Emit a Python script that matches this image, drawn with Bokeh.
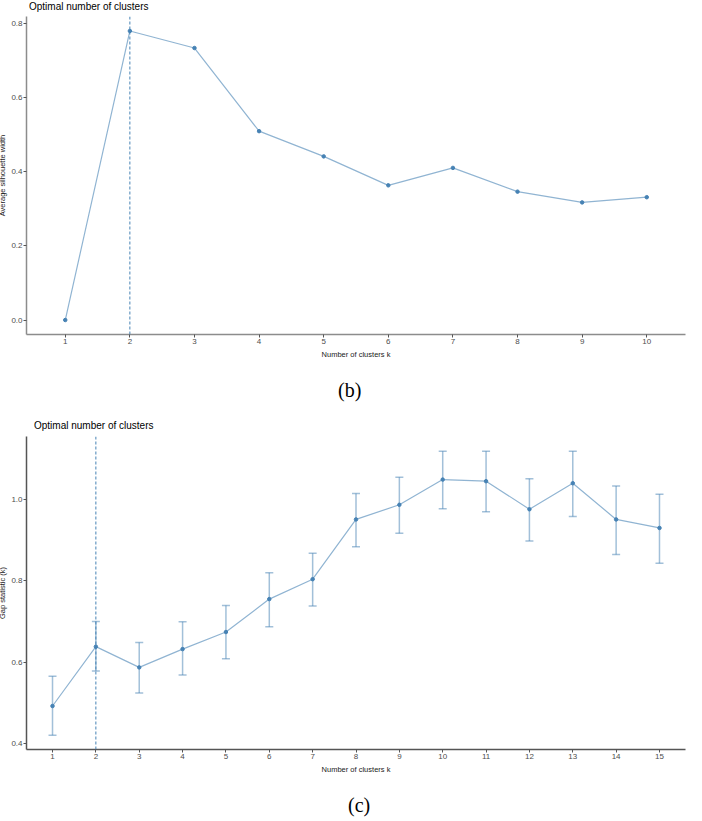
from bokeh.plotting import figure
from bokeh.models import (ColumnDataSource, Whisker, TeeHead, Span, Div,
                          FixedTicker)
from bokeh.layouts import column
from bokeh.embed import file_html
from bokeh.resources import INLINE

# ---------------- data ----------------
k_sil = [1, 2, 3, 4, 5, 6, 7, 8, 9, 10]
silhouette = [0.0, 0.779, 0.733, 0.509, 0.441, 0.363, 0.410, 0.346, 0.317, 0.331]
sil_yticks = [0.0, 0.2, 0.4, 0.6, 0.8]

k_gap = [1, 2, 3, 4, 5, 6, 7, 8, 9, 10, 11, 12, 13, 14, 15]
gap = [0.492, 0.638, 0.587, 0.632, 0.674, 0.755, 0.804, 0.951, 0.987, 1.049,
       1.045, 0.976, 1.040, 0.951, 0.930]
gap_lo = [0.420, 0.578, 0.524, 0.568, 0.608, 0.687, 0.738, 0.884, 0.917, 0.977,
          0.970, 0.898, 0.958, 0.865, 0.843]
gap_hi = [0.565, 0.700, 0.648, 0.699, 0.739, 0.820, 0.868, 1.015, 1.055, 1.119,
          1.119, 1.051, 1.119, 1.033, 1.013]
gap_yticks = [0.4, 0.6, 0.8, 1.0]

optimal_sil = 2
optimal_gap = 2

title_text = "Optimal number of clusters"
xlab = "Number of clusters k"
ylab_sil = "Average silhouette width"
ylab_gap = "Gap statistic (k)"

BLUE = "#4682B4"
FONT = "Liberation Sans"


def style(p, xticks, yticks, axis_color, ylab):
    p.xgrid.visible = False
    p.ygrid.visible = False
    p.outline_line_color = None
    p.xaxis.ticker = FixedTicker(ticks=xticks)
    p.yaxis.ticker = FixedTicker(ticks=yticks)
    p.yaxis.major_label_overrides = {v: f"{v:.1f}" for v in yticks}
    p.xaxis.major_label_overrides = {v: str(v) for v in xticks}
    for ax in (p.xaxis[0], p.yaxis[0]):
        ax.axis_line_color = axis_color
        ax.axis_line_width = 1.5
        ax.major_tick_line_color = "#555555"
        ax.major_tick_out = 3
        ax.major_tick_in = 0
        ax.minor_tick_out = 0
        ax.minor_tick_in = 0
        ax.major_label_text_font = FONT
        ax.major_label_text_font_size = "8px"
        ax.major_label_text_color = "#4d4d4d"
        ax.major_label_standoff = 1
        ax.axis_label_text_font = FONT
        ax.axis_label_text_font_size = "7.5px"
        ax.axis_label_text_font_style = "normal"
        ax.axis_label_text_color = "#222222"
        ax.axis_label_standoff = 1
    p.xaxis.axis_label_standoff = 3
    p.xaxis.axis_label = xlab
    p.yaxis.axis_label = ylab


def text_div(text, height, top, left, font, size):
    inner = (f'<div style="position:absolute; top:{top}px; left:{left}px; '
             f'font-family:\'{font}\'; font-size:{size}px; line-height:{int(size * 1.4)}px; '
             f'color:#000; white-space:nowrap;">{text}</div>')
    return Div(text=inner, width=702, height=height, margin=(0, 0, 0, 0),
               styles={"position": "relative", "overflow": "visible"})


# ---------------- (b) silhouette ----------------
title_b = text_div(title_text, 14, 0, 37, FONT, 10)
p1 = figure(width=702, height=352, x_range=(0.4, 10.6), y_range=(-0.039, 0.818),
            min_border_left=29, min_border_right=4, min_border_top=2,
            min_border_bottom=32, output_backend="svg", toolbar_location=None)
style(p1, k_sil, sil_yticks, "#8c8c8c", ylab_sil)
p1.add_layout(Span(location=optimal_sil, dimension="height", line_color=BLUE,
                   line_dash="3 2", line_width=1))
p1.line(k_sil, silhouette, line_color=BLUE, line_alpha=0.6, line_width=1.2)
p1.scatter(k_sil, silhouette, size=3.5, color=BLUE)
cap_b = text_div("(b)", 40, 10, 346, "Liberation Serif", 20)

# ---------------- (c) gap statistic ----------------
title_c = text_div(title_text, 28, 13, 42, FONT, 10)
p2 = figure(width=702, height=347, x_range=(0.4, 15.6), y_range=(0.385, 1.155),
            min_border_left=34, min_border_right=9, min_border_top=2,
            min_border_bottom=32, output_backend="svg", toolbar_location=None)
style(p2, k_gap, gap_yticks, "#555555", ylab_gap)
p2.add_layout(Span(location=optimal_gap, dimension="height", line_color=BLUE,
                   line_dash="3 2", line_width=1))
src = ColumnDataSource(dict(k=k_gap, gap=gap, lo=gap_lo, hi=gap_hi))
p2.add_layout(Whisker(base="k", lower="lo", upper="hi", source=src,
                      line_color=BLUE, line_alpha=0.5, line_width=1.5,
                      upper_head=TeeHead(size=8, line_color=BLUE, line_alpha=0.5,
                                         line_width=1.5),
                      lower_head=TeeHead(size=8, line_color=BLUE, line_alpha=0.5,
                                         line_width=1.5)))
p2.line("k", "gap", source=src, line_color=BLUE, line_alpha=0.6, line_width=1.2)
p2.scatter("k", "gap", source=src, size=3.5, color=BLUE)
cap_c = text_div("(c)", 36, 10, 356, "Liberation Serif", 20)

layout = column(title_b, p1, cap_b, title_c, p2, cap_c, spacing=0,
                styles={"margin-left": "-8px"})

open("out.html", "w").write(file_html(layout, INLINE))
